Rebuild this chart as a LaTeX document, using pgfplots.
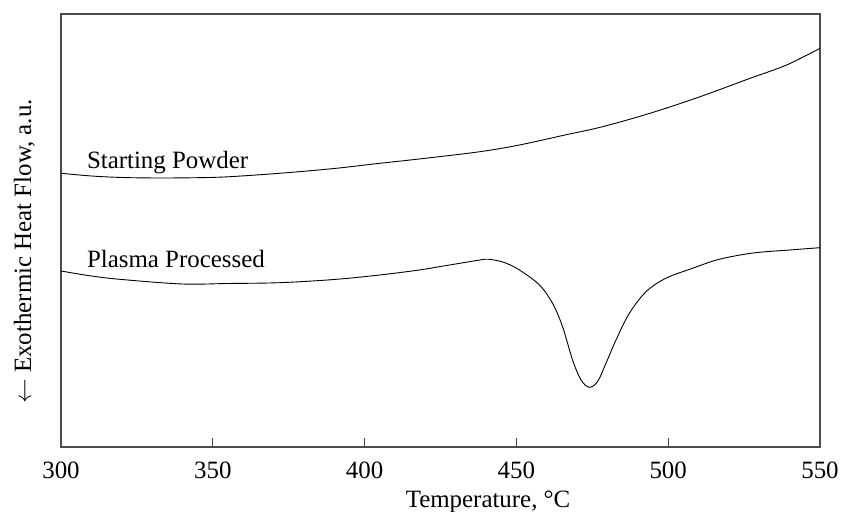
\documentclass[border=0pt]{standalone}
\usepackage{fontspec}
\setmainfont{Liberation Serif}
\usepackage{pgfplots}
\pgfplotsset{compat=1.18}
\begin{document}
\begin{tikzpicture}[x=1bp,y=1bp,font=\fontsize{25}{30}\selectfont]
\path[use as bounding box] (0,0) rectangle (842,512);
\begin{axis}[
  at={(61bp,65bp)}, anchor=south west,
  width=759bp, height=433bp, scale only axis,
  xmin=300, xmax=550, ymin=0, ymax=433,
  xtick={300,350,400,450,500,550},
  ytick=\empty,
  xtick pos=bottom, tick align=inside,
  major tick length=9bp,
  tick style={black!75, line width=0.8bp},
  axis line style={black!70, line width=1.1bp},
  /pgf/number format/assume math mode=true,
  xticklabel style={yshift=-11bp},
  xlabel={Temperature, °C},
  xlabel style={at={(axis description cs:0.5626,0)}, anchor=base, yshift=-61bp},
  ylabel={$\leftarrow$ Exothermic Heat Flow, a.u.},
  ylabel style={at={(axis description cs:-0.0395,0.4515)}, anchor=base},
  clip=false,
]
\addplot[black, line width=0.9bp, smooth, tension=0.55] coordinates {
(300,273.7) (310,271) (320,269.5) (332,269) (345,269.3) (355,270.2)
(372,273.7) (390,278.5) (405,283.7) (418,288) (438,295.3) (451,302)
(466,312) (478,320) (494,333.7) (510.5,350.3) (527,368.7) (539,382) (550,398.7)
};
\addplot[black, line width=0.9bp, smooth, tension=0.55] coordinates {
(300,176) (310,171) (320,167.5) (340,163) (355,163.5) (372,164.3)
(390,167.5) (405,172) (418,177) (425,180.5) (432,184) (438,187)
(441,187.7) (446,184.5) (451,177) (457.6,162) (461.9,143.7) (465.2,120.3)
(468.5,87) (471.3,67) (474,59.7) (476.7,65.3) (479.5,83.7) (482.8,107)
(487.2,133.7) (492.7,155.3) (499.2,168.7) (508,178.7) (516.8,187.7)
(528,194) (540,197) (550,199.3)
};
\node[anchor=base west, inner sep=0pt] at (axis cs:308.5,278.7) {Starting Powder};
\node[anchor=base west, inner sep=0pt] at (axis cs:308.5,179.3) {Plasma Processed};
\end{axis}
\end{tikzpicture}
\end{document}
